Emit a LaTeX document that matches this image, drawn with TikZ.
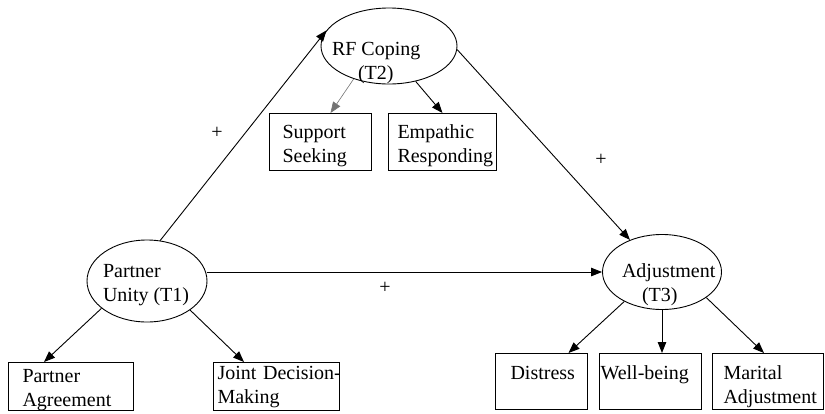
\documentclass[tikz,border=0pt]{standalone}
\usepackage{fontspec}
\setmainfont{Liberation Serif}
\usetikzlibrary{arrows.meta,shapes.geometric}
\newcommand\etext[5]{\makebox[0pt][l]{\raisebox{#3}[0pt][0pt]{\vtop{\baselineskip=24pt\hbox{\hspace*{#1}#4}\hbox{\hspace*{#2}#5}}}}}
\tikzset{
  ell/.style={draw, ellipse, line width=0.9pt, inner sep=0pt},
  boxn/.style={draw, line width=1pt, anchor=north west, inner ysep=0pt, align=left},
  arr/.style={-{Triangle[length=11pt,width=8.5pt]}, line width=0.9pt},
  plus/.style={inner sep=0pt}
}
\begin{document}
\begin{tikzpicture}[x=1pt, y=-1pt, font=\fontsize{20}{24}\selectfont]
\useasboundingbox (0,0) rectangle (825,413);
% latent variables
\node[ell, minimum width=136pt, minimum height=76pt] (rf) at (389,46) {\etext{-57pt}{-31pt}{-9pt}{RF Coping}{(T2)}};
\node[ell, minimum width=120pt, minimum height=82pt] (pu) at (147,281) {\etext{-44pt}{-44pt}{4pt}{Partner}{Unity (T1)}};
\node[ell, minimum width=119pt, minimum height=75pt] (adj) at (662,272) {\etext{-40pt}{-20pt}{-5pt}{Adjustment}{(T3)}};
% indicators
\node[boxn, inner xsep=13pt, text width=76pt, text height=25pt, text depth=32pt] (ss) at (269,113) {\mbox{Support}\\\mbox{Seeking}};
\node[boxn, inner xsep=9pt, text width=90pt, text height=25pt, text depth=32pt] (er) at (388,113) {\mbox{Empathic}\\\mbox{Responding}};
\node[boxn, inner xsep=14pt, text width=97pt, text height=20pt, text depth=28pt] (pa) at (8,362) {\mbox{Partner}\\\mbox{Agreement}};
\node[boxn, inner xsep=4pt, text width=118pt, text height=17pt, text depth=31pt] (jd) at (213,362) {\mbox{Joint Decision-}\\\mbox{Making}};
\node[boxn, inner xsep=15pt, text width=62pt, text height=26pt, text depth=30pt] (ds) at (495,353) {\mbox{Distress}};
\node[boxn, inner xsep=1pt, text width=100pt, text height=26pt, text depth=30pt] (wb) at (599,353) {\mbox{Well-being}};
\node[boxn, inner xsep=11pt, text width=89pt, text height=26pt, text depth=30pt] (ma) at (712,353) {\mbox{Marital}\\\mbox{Adjustment}};
% paths
\draw[arr] (pu.72) -- (rf.166);
\draw[arr] (rf.-3) -- (adj.135);
\draw[arr] (pu.east |- adj.west) -- (adj.west);
\draw[arr, black!55, line width=0.6pt] (rf.223) -- ([xshift=10pt]ss.north);
\draw[arr] (rf.-53) -- (er.north);
\draw[arr] (pu.211) -- ([xshift=-27pt]pa.north);
\draw[arr] (pu.-34) -- ([xshift=31pt]jd.north west);
\draw[arr] (adj.218) -- ([xshift=27pt]ds.north);
\draw[arr] (adj.south) -- (adj.south |- wb.north);
\draw[arr] (adj.-30) -- ([xshift=-4pt]ma.north);
% signs
\node[plus] (p1) at (217,133) {+};
\node[plus] (p2) at (385,288) {+};
\node[plus] (p3) at (601,160) {+};
\end{tikzpicture}
\end{document}
